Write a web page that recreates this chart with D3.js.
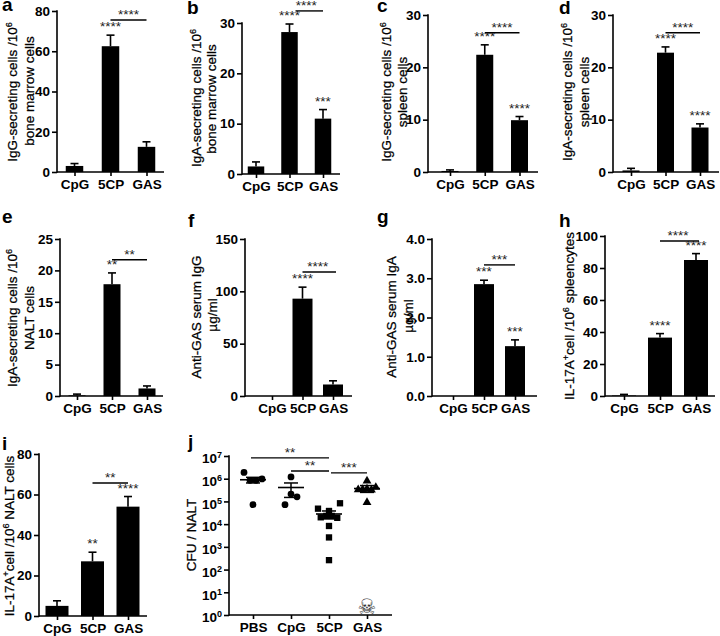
<!DOCTYPE html>
<html><head><meta charset="utf-8">
<script src="https://cdn.jsdelivr.net/npm/d3@7"></script>
<style>
html,body{margin:0;padding:0;background:#fff}
svg{display:block}
text{font-family:"Liberation Sans",Arial,sans-serif;fill:#000}
.tick text,.lab{font-weight:bold;font-size:13.5px}
.ttl{font-size:13.5px;stroke:#000;stroke-width:.25px}
.pl{font-weight:bold;font-size:19px}
.st{font-size:13.5px;fill:#222}
</style></head><body>
<svg id="c" width="720" height="636"></svg>
<script>
const groups = ["CpG","5CP","GAS"];
const aMeans=[3,62.5,12.5],  aTops=[4.2,68,15];
const bMeans=[1.5,28.2,11],  bTops=[2.4,29.8,12.8];
const cMeans=[0.2,22.4,9.9], cTops=[0.4,24.3,10.6];
const dMeans=[0.3,22.8,8.5], dTops=[0.7,23.9,9.2];
const eMeans=[0.1,17.8,1.2], eTops=[0.3,19.6,1.6];
const fMeans=[0,93,11],      fTops=[0,104,14.5];
const gMeans=[0,2.85,1.27],  gTops=[0,2.95,1.43];
const hMeans=[0.3,36.5,85],  hTops=[1,39,89];
const iMeans=[5,27,54],      iTops=[7.5,31.5,59];
const aTicks=[0,20,40,60,80], bTicks=[0,10,20,30], cTicks=[0,10,20,30], eTicks=[0,5,10,15,20,25];
const fTicks=[0,50,100,150], gTicks=[0,1,2,3,4], hTicks=[0,20,40,60,80,100], iTicks=[0,20,40,60,80];
const aStars=["","****",""], bStars=["","****","***"], cStars=["","****","****"], dStars=["","****","****"];
const eStars=["","**",""], fStars=["","****",""], gStars=["","***","***"], hStars=["","****","****"], iStars=["","**","****"];

const jGroups=["PBS","CpG","5CP","GAS"];
// each inner list is one row of the dot plot; null leaves a slot empty
const jPBS=[[1.9e6,8.5e5,8.5e5,9.8e5],[7.2e4]];
const jCpG=[[1.2e6],[2.1e5],[7.2e4,null,1.6e5]];
const j5CP=[[4.8e4,null,null,null,8.3e4],[3.8e4],[2e4,2.3e4,2.3e4,1.9e4],[8.3e3],[2.6e3],[2.6e2]];
const jGAS=[[8e5],[3.3e5,3.4e5,3.6e5,3.2e5,4.2e5],[9.1e4]];
const jMeans=[9e5,4.1e5,2.8e4,3.7e5];
const jLow=[6.5e5,1.5e5,1.7e4,2.5e5];
const jHigh=[1.15e6,6.5e5,3.8e4,5e5];
const jExp=[0,1,2,3,4,5,6,7];

const svg=d3.select("#c");

function title(g,x,y,str){
  const t=g.append("text").attr("class","ttl").attr("text-anchor","middle")
    .attr("transform",`translate(${x},${y}) rotate(-90)`);
  str.split(/(\^.)/).forEach((s,k,arr)=>{
    if(!s) return;
    const sup=s[0]==="^";
    const ts=t.append("tspan").text(sup?s.slice(1):s);
    if(sup) ts.attr("dy",-5).style("font-size","9px");
    else if(k>0 && arr[k-1]&&arr[k-1][0]==="^") ts.attr("dy",5);
  });
}
function stars(g,x,y,s){ if(s) g.append("text").attr("class","st").attr("text-anchor","middle").attr("x",x).attr("y",y).text(s); }
function letter(s,x,y){ svg.append("text").attr("class","pl").attr("x",x).attr("y",y).text(s); }
function styleAxis(a){ a.selectAll("line").attr("stroke","#000").attr("stroke-width",1.6); a.select(".domain").remove(); }

function barPanel(o){
  const g=svg.append("g");
  const y=d3.scaleLinear().domain([0,o.ticks[o.ticks.length-1]]).range([o.y0,o.y1]);
  const x=d3.scalePoint().domain(groups).range(o.cx);
  g.selectAll(".b").data(groups).join("rect")
    .attr("x",d=>x(d)-o.w/2).attr("width",o.w)
    .attr("y",(d,i)=>y(o.means[i])).attr("height",(d,i)=>y(0)-y(o.means[i])).attr("fill","#000");
  groups.forEach((d,i)=>{
    if(o.tops[i]<=o.means[i]) return;
    g.append("line").attr("x1",x(d)).attr("x2",x(d)).attr("y1",y(o.means[i])).attr("y2",y(o.tops[i])).attr("stroke","#000").attr("stroke-width",1.6);
    g.append("line").attr("x1",x(d)-4).attr("x2",x(d)+4).attr("y1",y(o.tops[i])).attr("y2",y(o.tops[i])).attr("stroke","#000").attr("stroke-width",1.6);
    stars(g,x(d),y(o.tops[i])-4,o.stars[i]);
  });
  const ya=g.append("g").attr("transform",`translate(${o.ax},0)`).call(d3.axisLeft(y).tickValues(o.ticks).tickSize(5).tickPadding(2));
  const xa=g.append("g").attr("transform",`translate(0,${o.y0})`).call(d3.axisBottom(x).tickSize(4).tickPadding(3));
  styleAxis(ya);styleAxis(xa);
  g.append("line").attr("x1",o.ax).attr("x2",o.ax).attr("y1",o.y0+.8).attr("y2",o.y1-.8).attr("stroke","#000").attr("stroke-width",1.6);
  g.append("line").attr("x1",o.ax).attr("x2",o.axEnd).attr("y1",o.y0).attr("y2",o.y0).attr("stroke","#000").attr("stroke-width",1.6);
  // bracket between 5CP and GAS
  const by=y(o.brVal);
  g.append("line").attr("x1",x("5CP")+(o.brL||0)).attr("x2",x("GAS")+(o.brR||0)).attr("y1",by).attr("y2",by).attr("stroke","#000").attr("stroke-width",1.4);
  stars(g,(x("5CP")+x("GAS"))/2+(o.brS||0),by-1,o.brStars);
  o.titles.forEach(t=>title(g,t[0],t[1],t[2]));
}

const T6="/10^6";
barPanel({means:aMeans,tops:aTops,ticks:aTicks,stars:aStars,brVal:75.5,brStars:"****",ax:57,axEnd:164,y0:172,y1:11,cx:[74.5,146.5],w:17.5,
  titles:[[17,92,"IgG-secreting cells "+T6],[34,91,"bone marrow cells"]]});
barPanel({means:bMeans,tops:bTops,ticks:bTicks,stars:bStars,brVal:32.4,brStars:"****",ax:242,axEnd:340,y0:174,y1:23,cx:[256,323],w:16.5,brL:6,
  titles:[[201,98,"IgA-secreting cells "+T6],[216,99,"bone marrow cells"]]});
barPanel({means:cMeans,tops:cTops,ticks:cTicks,stars:cStars,brVal:26.6,brStars:"****",ax:428,axEnd:538,y0:172,y1:15,cx:[450,519.5],w:17,
  titles:[[391,92,"IgG-secreting cells "+T6],[407,92,"spleen cells"]]});
barPanel({means:dMeans,tops:dTops,ticks:cTicks,stars:dStars,brVal:26.6,brStars:"****",ax:613,axEnd:719,y0:172,y1:15,cx:[631,700],w:17,
  titles:[[572,92,"IgA-secreting cells "+T6],[589,92,"spleen cells"]]});
barPanel({means:eMeans,tops:eTops,ticks:eTicks,stars:eStars,brVal:21.7,brStars:"**",ax:60,axEnd:163,y0:396,y1:239,cx:[77,147],w:17,
  titles:[[17,318,"IgA-secreting cells "+T6],[34,318,"NALT cells"]]});
barPanel({means:fMeans,tops:fTops,ticks:fTicks,stars:fStars,brVal:118.5,brStars:"****",ax:245,axEnd:352,y0:396,y1:239,cx:[272,333],w:20,brR:3,
  titles:[[201,317,"Anti-GAS serum IgG"],[217,315,"µg/ml"]]});
barPanel({means:gMeans,tops:gTops,ticks:gTicks,stars:gStars,brVal:3.34,brStars:"***",ax:432,axEnd:537,y0:396,y1:239,cx:[453,515],w:20,
  titles:[[396,317,"Anti-GAS serum IgA"],[413,316,"µg/ml"]]});
barPanel({means:hMeans,tops:hTops,ticks:hTicks,stars:hStars,brVal:96.9,brStars:"****",ax:605,axEnd:715,y0:396,y1:236,cx:[624,696],w:24,brR:3,
  titles:[[574,316,"IL-17A^+cell "+T6+" spleencytes"]]});
barPanel({means:iMeans,tops:iTops,ticks:iTicks,stars:iStars,brVal:65.7,brStars:"**",ax:39,axEnd:147,y0:616,y1:454,cx:[57,128],w:23,
  titles:[[14,536,"IL-17A^+cell "+T6+" NALT cells"]]});

// panel j
(function(){
  const g=svg.append("g");
  const ax=229,axEnd=392,y0=615,y1=456;
  const y=d3.scaleLog().domain([1,1e7]).range([y0,y1]);
  const x=d3.scalePoint().domain(jGroups).range([253,367]);
  const rows=[jPBS,jCpG,j5CP,jGAS];
  const syms=[d3.symbolCircle,d3.symbolCircle,d3.symbolSquare,d3.symbolTriangle];
  const sizes=[36,36,40,34];
  const spread=[6,6,5.5,4.4];
  jGroups.forEach((name,i)=>{
    rows[i].forEach(row=>{
      row.forEach((v,k)=>{
        if(v===null) return;
        const dx=(k-(row.length-1)/2)*spread[i];
        g.append("path").attr("d",d3.symbol().type(syms[i]).size(sizes[i])())
          .attr("transform",`translate(${x(name)+dx},${y(v)})`).attr("fill","#000");
      });
    });
    const cx=x(name);
    g.append("line").attr("x1",cx-13).attr("x2",cx+13).attr("y1",y(jMeans[i])).attr("y2",y(jMeans[i])).attr("stroke","#000").attr("stroke-width",1.6);
    g.append("line").attr("x1",cx).attr("x2",cx).attr("y1",y(jLow[i])).attr("y2",y(jHigh[i])).attr("stroke","#000").attr("stroke-width",1.5);
    [jLow[i],jHigh[i]].forEach(v=>g.append("line").attr("x1",cx-7).attr("x2",cx+7).attr("y1",y(v)).attr("y2",y(v)).attr("stroke","#000").attr("stroke-width",1.5));
  });
  const ya=g.append("g").attr("transform",`translate(${ax},0)`).call(d3.axisLeft(y).tickValues(jExp.map(e=>Math.pow(10,e))).tickSize(5).tickPadding(2).tickFormat(""));
  ya.selectAll(".tick").each(function(d,i){
    const t=d3.select(this).select("text").text("10").attr("dy","0.5em");
    t.append("tspan").text(jExp[i]).attr("dy",-5).style("font-size","9px");
  });
  const xa=g.append("g").attr("transform",`translate(0,${y0})`).call(d3.axisBottom(x).tickSize(4).tickPadding(3));
  styleAxis(ya);styleAxis(xa);
  g.append("line").attr("x1",ax).attr("x2",ax).attr("y1",y0+.8).attr("y2",y1-.8).attr("stroke","#000").attr("stroke-width",1.6);
  g.append("line").attr("x1",ax).attr("x2",axEnd).attr("y1",y0).attr("y2",y0).attr("stroke","#000").attr("stroke-width",1.6);
  const br=[["PBS","5CP",8.3e6,"**",-2,0],["CpG","5CP",2.2e6,"**",0,0],["5CP","GAS",1.8e6,"***",2,0]];
  br.forEach(b=>{
    const by=y(b[2]);
    g.append("line").attr("x1",x(b[0])+b[4]).attr("x2",x(b[1])+b[5]).attr("y1",by).attr("y2",by).attr("stroke","#000").attr("stroke-width",1.4);
    stars(g,(x(b[0])+b[4]+x(b[1])+b[5])/2,by-1,b[3]);
  });
  g.append("text").attr("x",x("GAS")).attr("y",614).attr("text-anchor","middle")
    .style("font-family","DejaVu Sans").style("font-size","21px").style("fill","#333").text("\u2620");
  title(g,196,535,"CFU / NALT");
})();

[["a",2,11],["b",187,14],["c",377,12],["d",559,14],["e",2,223],["f",188,227],["g",377,223],["h",559,227],["i",2,450],["j",188,448]]
  .forEach(l=>letter(l[0],l[1],l[2]));
</script>
</body></html>
